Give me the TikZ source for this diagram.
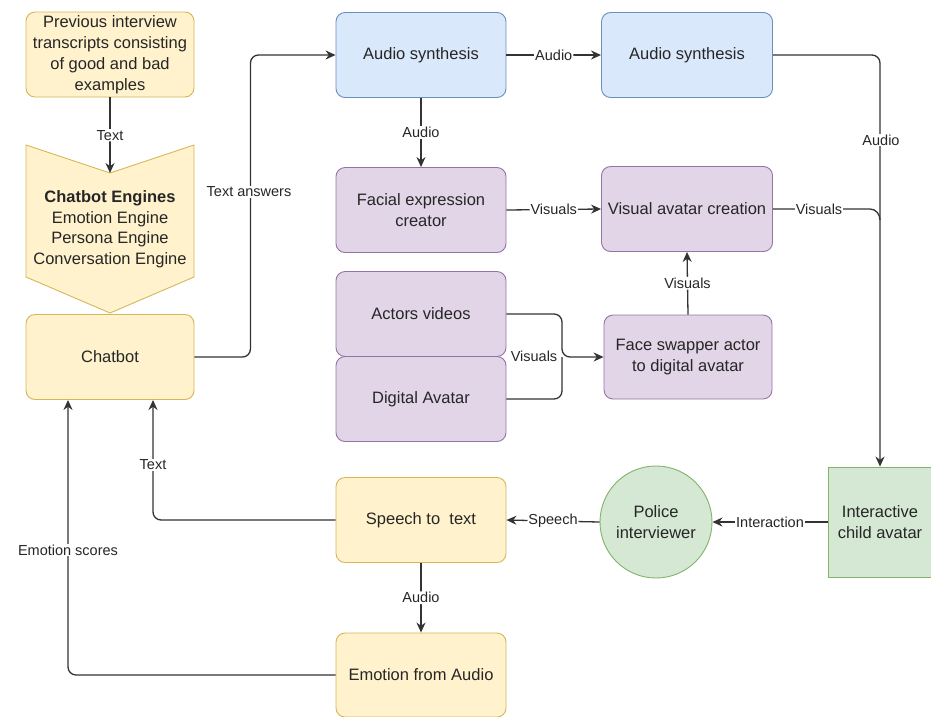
\documentclass[tikz,border=0pt]{standalone}
\usepackage{fontspec}
\setmainfont{Liberation Sans}
\usetikzlibrary{arrows.meta,calc}
\definecolor{yfill}{HTML}{FFF2CC}\definecolor{ydraw}{HTML}{D6B656}
\definecolor{bfill}{HTML}{DAE8FC}\definecolor{bdraw}{HTML}{6C8EBF}
\definecolor{pfill}{HTML}{E1D5E7}\definecolor{pdraw}{HTML}{9673A6}
\definecolor{gfill}{HTML}{D5E8D4}\definecolor{gdraw}{HTML}{82B366}
\definecolor{lnc}{HTML}{333333}
\tikzset{
  box/.style={draw, line width=0.9pt, rounded corners=9pt, minimum width=170pt, minimum height=85pt, align=center, inner sep=2pt, font=\fontsize{16.5}{21}\selectfont, text=black!85},
  ybox/.style={box, fill=yfill, draw=ydraw},
  bbox/.style={box, fill=bfill, draw=bdraw},
  pbox/.style={box, fill=pfill, draw=pdraw},
  conn/.style={draw=lnc, line width=1.3pt, rounded corners=8pt, -{Stealth[length=10pt,width=9pt]}},
  plain/.style={draw=lnc, line width=1.3pt, rounded corners=8pt},
  lbl/.style={fill=white, inner sep=1pt, font=\fontsize{14.5}{17}\selectfont, text=black!85}
}
\begin{document}
\begin{tikzpicture}[x=1pt,y=-1pt]
\useasboundingbox (0,0) rectangle (931,716);
% nodes
\node[ybox, minimum width=168pt] (prev) at (110,54.5) {Previous interview\\transcripts consisting\\of good and bad\\examples};
\filldraw[fill=yfill, draw=ydraw, line width=0.9pt] (26,145) -- (110,173) -- (194,145) -- (194,277) -- (110,313) -- (26,277) -- cycle;
\coordinate (notch) at (110,173);
\node[align=center, font=\fontsize{16.5}{20.5}\selectfont, text=black!85] (engines) at (110,229) {\textbf{Chatbot Engines}\\Emotion Engine\\Persona Engine\\Conversation Engine};
\node[ybox, minimum width=168pt] (chatbot) at (110,357) {Chatbot};
\node[bbox] (as1) at (421,55) {Audio synthesis};
\node[bbox, minimum width=171pt] (as2) at (687,55) {Audio synthesis};
\node[pbox] (fec) at (421,210) {Facial expression\\creator};
\node[pbox, minimum width=171pt] (vac) at (687,209) {Visual avatar creation};
\node[pbox] (actors) at (421,314) {Actors videos};
\node[pbox] (digital) at (421,399) {Digital Avatar};
\node[pbox, minimum width=168pt, minimum height=84pt] (fsw) at (688,357) {Face swapper actor\\to digital avatar};
\node[draw=gdraw, fill=gfill, line width=0.9pt, minimum width=104pt, minimum height=110pt, align=center, inner sep=2pt, font=\fontsize{16.5}{21}\selectfont, text=black!85] (ica) at (880,522) {Interactive\\child avatar};
\node[circle, draw=gdraw, fill=gfill, line width=0.9pt, minimum size=112pt, align=center, inner sep=0pt, font=\fontsize{16.5}{21}\selectfont, text=black!85] (police) at (656,522) {Police\\interviewer};
\node[ybox] (stt) at (421,520) {Speech to~ text};
\node[ybox, minimum height=84pt] (efa) at (421,675) {Emotion from Audio};
% connectors
\draw[conn] (prev.south) -- node[lbl] {Text} (notch);
\draw[conn] (chatbot.east) -- ++(56,0) |- (as1.west);
\node[lbl] at (249,192) {Text answers};
\draw[conn] (as1.east) -- node[lbl] {Audio} (as2.west);
\coordinate (vline) at (880,55);
\draw[conn] (as2.east) -- (vline) -- (ica.north);
\node[lbl] at (881,140) {Audio};
\draw[conn] (as1.south) -- node[lbl] {Audio} (fec.north);
\draw[conn] (fec.east) -- node[lbl] {Visuals} (vac.west);
\draw[plain, rounded corners=0pt] (vac.east) -- (870,209) to[out=0,in=90] (880,220);
\node[lbl] at (819,209) {Visuals};
\draw[conn] (fsw.north) -- node[lbl] {Visuals} (vac.south);
\coordinate (junc) at (562,357);
\draw[conn] (actors.east) -| (junc) -- (fsw.west);
\draw[plain] (digital.east) -| (junc);
\node[lbl] at (534,356) {Visuals};
\draw[conn] (ica.west) -- node[lbl] {Interaction} (police.east);
\draw[conn] (police.west) -- node[lbl] {Speech} (stt.east);
\draw[conn] (stt.west) -| ([xshift=43pt]chatbot.south);
\node[lbl] at (153,465) {Text};
\draw[conn] (stt.south) -- node[lbl] {Audio} (efa.north);
\draw[conn] (efa.west) -| ([xshift=-42pt]chatbot.south);
\node[lbl] at (68,550) {Emotion scores};
\end{tikzpicture}
\end{document}
